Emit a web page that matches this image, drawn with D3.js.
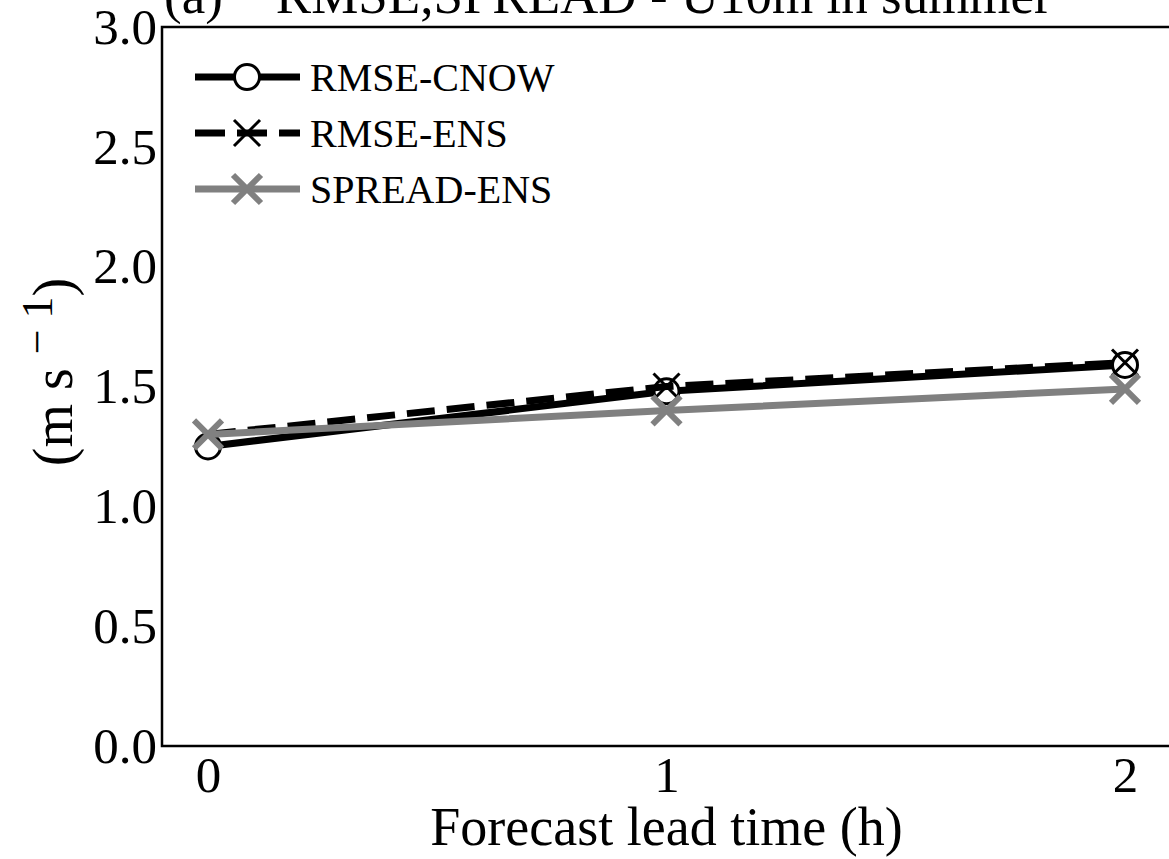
<!DOCTYPE html>
<meta charset="utf-8">
<style>
body { margin: 0; background: #fff; }
svg { display: block; font-family: "Liberation Serif", "Times New Roman", serif; }
.axis .domain { display: none; }
.axis line { display: none; }
.axis text { font-family: "Liberation Serif", "Times New Roman", serif; }
</style>
<svg width="1169" height="859"></svg>
<script src="https://cdn.jsdelivr.net/npm/d3@7"></script>
<script>

var leadTimes = [0, 1, 2];
var yTicks = [0.0, 0.5, 1.0, 1.5, 2.0, 2.5, 3.0];
var seriesNames = ["RMSE-CNOW", "RMSE-ENS", "SPREAD-ENS"];
var rmseCnow = [1.25, 1.48, 1.59];
var rmseEns = [1.30, 1.50, 1.60];
var spreadEns = [1.30, 1.40, 1.49];

var svg = d3.select("svg"),
    margin = {top: 27, right: -8, bottom: 113, left: 162},
    width = +svg.attr("width") - margin.left - margin.right,
    height = +svg.attr("height") - margin.top - margin.bottom,
    g = svg.append("g").attr("transform", "translate(" + margin.left + "," + margin.top + ")");

var x = d3.scaleLinear().domain([0, 2]).range([46, 963]);
var y = d3.scaleLinear().domain([0, 3]).range([height, 0]);

var styles = [
  {color: "#000", dash: null, marker: "circle"},
  {color: "#000", dash: "28,12", marker: "xthin"},
  {color: "#808080", dash: null, marker: "xthick"}
];
var series = [rmseCnow, rmseEns, spreadEns];

// frame
g.append("rect")
    .attr("width", width).attr("height", height)
    .attr("fill", "none").attr("stroke", "#000").attr("stroke-width", 2.5);

// axes
g.append("g")
    .attr("class", "axis")
    .attr("transform", "translate(0," + height + ")")
    .call(d3.axisBottom(x).tickValues(leadTimes).tickFormat(d3.format("d")).tickSize(0).tickPadding(10))
    .selectAll("text").style("font-size", "51px").attr("fill", "#000");

g.append("g")
    .attr("class", "axis")
    .call(d3.axisLeft(y).tickValues(yTicks).tickFormat(d3.format(".1f")).tickSize(0).tickPadding(5))
    .selectAll("text").style("font-size", "51px").attr("fill", "#000");

function drawMarker(sel, type, cx, cy) {
  if (type == "circle") {
    sel.append("circle").attr("cx", cx).attr("cy", cy).attr("r", 12.5)
      .attr("fill", "#fff").attr("stroke", "#000").attr("stroke-width", 3);
  } else {
    var s = type == "xthick" ? 14 : 13;
    var sw = type == "xthick" ? 6 : 3;
    var c = type == "xthick" ? "#808080" : "#000";
    sel.append("path")
      .attr("d", "M" + (cx - s) + "," + (cy - s) + "L" + (cx + s) + "," + (cy + s) +
                 "M" + (cx - s) + "," + (cy + s) + "L" + (cx + s) + "," + (cy - s))
      .attr("stroke", c).attr("stroke-width", sw).attr("fill", "none");
  }
}

var line = d3.line()
    .x(function(d, i) { return x(leadTimes[i]); })
    .y(function(d) { return y(d); });

series.forEach(function(vals, k) {
  var st = styles[k];
  g.append("path")
    .datum(vals)
    .attr("d", line)
    .attr("fill", "none")
    .attr("stroke", st.color)
    .attr("stroke-width", 7)
    .attr("stroke-dasharray", st.dash);
  var mg = g.append("g");
  vals.forEach(function(v, i) { drawMarker(mg, st.marker, x(leadTimes[i]), y(v)); });
});

// legend
var legend = g.append("g").attr("transform", "translate(33,50)");
seriesNames.forEach(function(name, k) {
  var st = styles[k];
  var row = legend.append("g").attr("transform", "translate(0," + (k * 56) + ")");
  row.append("line")
    .attr("x1", 0).attr("x2", 105).attr("y1", 0).attr("y2", 0)
    .attr("stroke", st.color).attr("stroke-width", 7)
    .attr("stroke-dasharray", st.dash ? "30,12" : null);
  drawMarker(row, st.marker, 52, 0);
  row.append("text")
    .attr("x", 115).attr("y", 0).attr("dy", "0.35em")
    .style("font-size", "40px")
    .text(name);
});

// axis titles
svg.append("text")
    .attr("x", margin.left + x(1))
    .attr("y", 845)
    .attr("text-anchor", "middle")
    .style("font-size", "54px")
    .text("Forecast lead time (h)");

var yl = svg.append("text")
    .attr("transform", "translate(72,372) rotate(-90)")
    .attr("text-anchor", "middle")
    .style("font-size", "56px");
yl.append("tspan").text("(m s ");
yl.append("tspan").attr("dy", "-20").style("font-size", "44px").text("\u2212 1");
yl.append("tspan").attr("dy", "20").text(")");

svg.append("text")
    .attr("x", 164)
    .attr("y", 13)
    .style("font-size", "53px")
    .attr("xml:space", "preserve")
    .text("(a)    RMSE,SPREAD - U10m in summer");

</script>
